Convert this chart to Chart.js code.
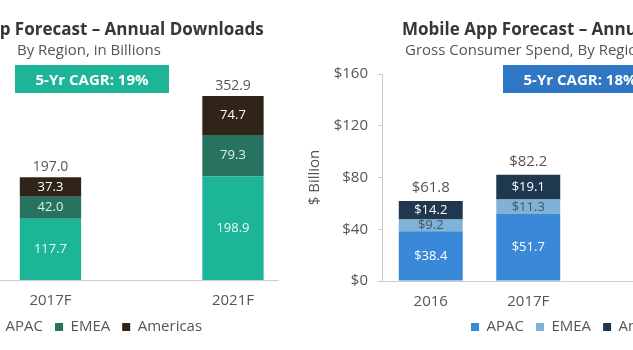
<!DOCTYPE html>
<html>
<head>
<meta charset="utf-8">
<script src="https://cdn.jsdelivr.net/npm/chart.js@4"></script>
<style>
  body { margin: 0; width: 633px; height: 350px; overflow: hidden; position: relative; background: #fff; font-family: "Open Sans", sans-serif; }
  canvas { position: absolute; top: 0; }
  .title { position: absolute; white-space: nowrap; font-weight: bold; font-size: 17px; line-height: 20px; color: #363636; }
  .sub { position: absolute; white-space: nowrap; font-size: 15px; line-height: 18px; color: #555; }
  .cagr { position: absolute; top: 65px; width: 154px; height: 28px; line-height: 28px; text-align: center; color: #fff; font-weight: bold; font-size: 15px; }
</style>
</head>
<body>
<canvas id="downloadsChart" width="382" height="350" style="left:-100px"></canvas>
<canvas id="spendChart" width="542" height="350" style="left:300px"></canvas>

<div class="title" style="left:-85px; top:19px">Mobile App Forecast – Annual Downloads</div>
<div class="sub" style="left:17px; top:40px">By Region, in Billions</div>
<div class="cagr" style="left:15px; background:#1eb497">5-Yr CAGR: 19%</div>

<div class="title" style="left:402px; top:19px">Mobile App Forecast – Annual Consumer Spend</div>
<div class="sub" style="left:405px; top:40px">Gross Consumer Spend, By Region, in Billions</div>
<div class="cagr" style="left:503px; background:#2f76c4">5-Yr CAGR: 18%</div>

<script>
// categories (the picture is cropped: 2016 downloads and 2021F spend are off the edge)
const years = ['2016', '2017F', '', '2021F'];

// Annual downloads, billions
const dlApac = [null, 117.7, null, 198.9];
const dlEmea = [null, 42.0, null, 79.3];
const dlAmericas = [null, 37.3, null, 74.7];
const dlTotals = [null, 197.0, null, 352.9];

// Gross consumer spend, $ billions
const spApac = [38.4, 51.7, null, null];
const spEmea = [9.2, 11.3, null, null];
const spAmericas = [14.2, 19.1, null, null];
const spTotals = [61.8, 82.2, null, null];

const spendTicks = [0, 40, 80, 120, 160];

Chart.defaults.font.family = 'Open Sans';
Chart.defaults.color = '#555';

// value labels inside each segment + total above each stack
const barLabels = {
    id: 'barLabels',
    afterDatasetsDraw(chart, args, opts) {
        const ctx = chart.ctx;
        ctx.save();
        ctx.textAlign = 'center';
        ctx.textBaseline = 'middle';
        chart.data.datasets.forEach((ds, i) => {
            const meta = chart.getDatasetMeta(i);
            meta.data.forEach((bar, j) => {
                if (ds.data[j] == null) return;
                ctx.font = opts.size + 'px "Open Sans"';
                ctx.fillStyle = ds.labelColor;
                ctx.fillText(opts.prefix + ds.data[j].toFixed(1), bar.x, (bar.y + bar.base) / 2);
            });
        });
        const top = chart.getDatasetMeta(chart.data.datasets.length - 1);
        ctx.font = opts.totalSize + 'px "Open Sans"';
        ctx.fillStyle = '#555';
        opts.totals.forEach((t, j) => {
            if (t == null) return;
            ctx.fillText(opts.prefix + t.toFixed(1), top.data[j].x, top.data[j].y - opts.gap);
        });
        ctx.restore();
    }
};

function makeLegend(fullSize) {
    return {
        position: 'bottom',
        fullSize: fullSize,
        labels: { boxWidth: 8, boxHeight: 8, padding: 12, color: '#555', font: { size: 15 } }
    };
}

// Downloads chart
const ctx = document.getElementById('downloadsChart').getContext('2d');
const downloadsChart = new Chart(ctx, {
    type: 'bar',
    data: {
        labels: years,
        datasets: [
            { label: 'APAC', data: dlApac, backgroundColor: '#1db597', labelColor: '#eafaf5' },
            { label: 'EMEA', data: dlEmea, backgroundColor: '#27735f', labelColor: '#e0f0ea' },
            { label: 'Americas', data: dlAmericas, backgroundColor: '#2f2417', labelColor: '#fff' }
        ]
    },
    options: {
        responsive: false,
        animation: false,
        barPercentage: 0.84,
        categoryPercentage: 0.8,
        layout: { padding: { left: 13.6, right: 3.4, top: 71.5, bottom: 5.5 } },
        scales: {
            x: {
                stacked: true,
                grid: { display: false, drawTicks: false },
                border: { color: '#ccc' },
                ticks: { font: { size: 15 }, padding: 12 },
                afterFit: axis => { axis.height = 27.5; }
            },
            y: { stacked: true, display: false, min: 0, max: 400 }
        },
        plugins: {
            legend: makeLegend(true),
            tooltip: { enabled: false },
            barLabels: { prefix: '', totals: dlTotals, gap: 10, size: 13, totalSize: 14 }
        }
    },
    plugins: [barLabels]
});

// Consumer spend chart
const ctx2 = document.getElementById('spendChart').getContext('2d');
const spendChart = new Chart(ctx2, {
    type: 'bar',
    data: {
        labels: years,
        datasets: [
            { label: 'APAC', data: spApac, backgroundColor: '#3a88d8', labelColor: '#fff' },
            { label: 'EMEA', data: spEmea, backgroundColor: '#80b1d6', labelColor: '#4a5560' },
            { label: 'Americas', data: spAmericas, backgroundColor: '#1f3850', labelColor: '#fff' }
        ]
    },
    options: {
        responsive: false,
        animation: false,
        barPercentage: 0.82,
        categoryPercentage: 0.8,
        layout: { padding: { left: 2, right: 70, top: 74, bottom: 5.5 } },
        scales: {
            x: {
                stacked: true,
                grid: { display: false, drawTicks: false },
                border: { color: '#ccc' },
                ticks: { font: { size: 15 }, padding: 12 },
                afterFit: axis => { axis.height = 26.5; }
            },
            y: {
                stacked: true,
                min: 0,
                max: 160,
                afterBuildTicks: axis => { axis.ticks = spendTicks.map(v => ({ value: v })); },
                afterFit: axis => { axis.width = 80; },
                grid: { drawOnChartArea: false, tickLength: 4, color: '#ccc' },
                border: { color: '#ccc' },
                ticks: { font: { size: 15 }, padding: 10, callback: v => '$' + v },
                title: { display: true, text: '$ Billion', font: { size: 15 }, padding: 4 }
            }
        },
        plugins: {
            legend: makeLegend(false),
            tooltip: { enabled: false },
            barLabels: { prefix: '$', totals: spTotals, gap: 13, size: 13, totalSize: 15 }
        }
    },
    plugins: [barLabels]
});
</script>
</body>
</html>
